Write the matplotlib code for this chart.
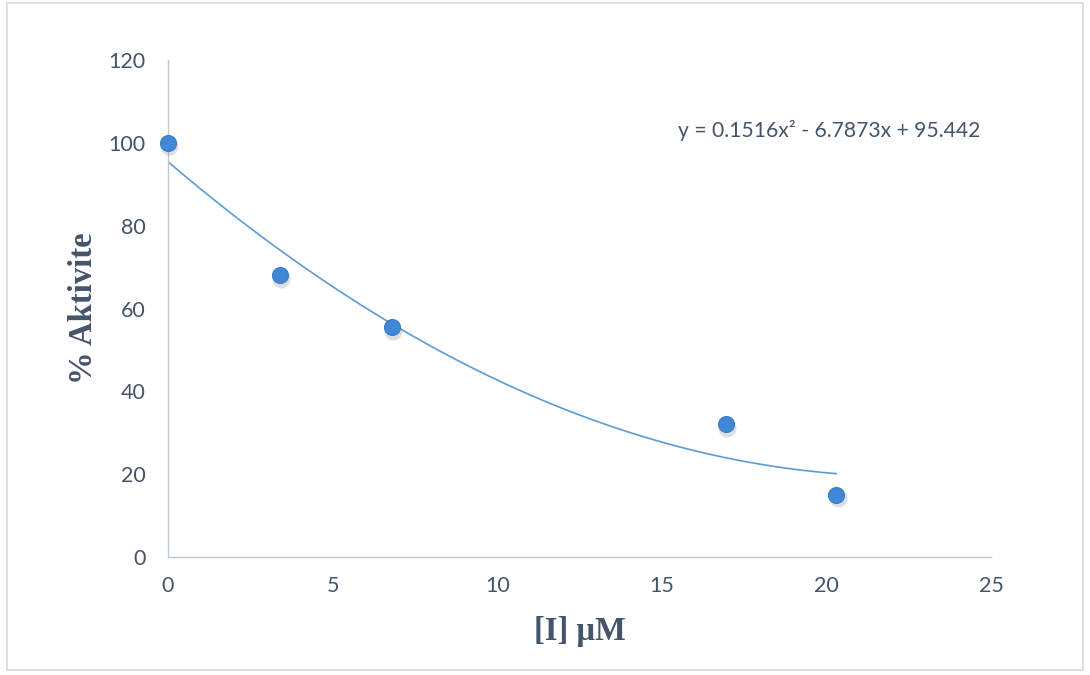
import numpy as np
import matplotlib
matplotlib.use("Agg")
import matplotlib.pyplot as plt
from matplotlib.patches import Rectangle
from matplotlib import transforms

# veriler
konsantrasyon = [0.0, 3.4, 6.8, 16.95, 20.3]
aktivite = [100.0, 68.0, 55.5, 32.0, 15.0]
trend_katsayi = [0.1516, -6.7873, 95.442]  # ax^2 + bx + c
x_ticks = [0, 5, 10, 15, 20, 25]
y_ticks = [0, 20, 40, 60, 80, 100, 120]

text_col = "#44546A"
axis_col = "#BCC8D8"
mark_col = "#3F88D5"
line_col = "#5B9BD5"

fig = plt.figure(figsize=(10.9, 6.75), dpi=100)
ax = fig.add_axes([0.1541, 0.1748, 0.7551, 0.7363])

# dış çerçeve
fig.patches.append(Rectangle((0.006, 0.008), 0.988, 0.987, transform=fig.transFigure,
                             fill=False, edgecolor="#D9D9D9", linewidth=1.2))

# trend çizgisi
xs = np.linspace(min(konsantrasyon), max(konsantrasyon), 200)
ax.plot(xs, np.polyval(trend_katsayi, xs), color=line_col, linewidth=1.2, zorder=2)

# gölge + noktalar
shadow = transforms.offset_copy(ax.transData, fig=fig, x=1.0, y=-2.5, units="points")
ax.plot(konsantrasyon, aktivite, "o", color="#8C97A6", alpha=0.3, markersize=13,
        markeredgewidth=0, transform=shadow, zorder=3, clip_on=False)
ax.plot(konsantrasyon, aktivite, "o", color=mark_col, markersize=11.5,
        markeredgecolor="#3A7CC4", markeredgewidth=0.8, zorder=4, clip_on=False)

ax.text(0.9866, 0.859, "y = 0.1516x\u00b2 - 6.7873x + 95.442",
        transform=ax.transAxes, ha="right", va="center", fontsize=15.2,
        color=text_col, family="Lato")

ax.set_xlim(0, 25)
ax.set_ylim(0, 120)
ax.set_xticks(x_ticks)
ax.set_yticks(y_ticks)
ax.tick_params(length=0, labelsize=15.5, labelcolor=text_col)
ax.tick_params(axis="y", pad=16)
ax.tick_params(axis="x", pad=14)
for lbl in ax.get_xticklabels() + ax.get_yticklabels():
    lbl.set_family("Lato")

for side in ("top", "right"):
    ax.spines[side].set_visible(False)
for side in ("left", "bottom"):
    ax.spines[side].set_color(axis_col)
    ax.spines[side].set_linewidth(1.0)

ax.set_xlabel("[I] \u00b5M", fontsize=23.5, fontweight="bold", family="Liberation Serif",
              color=text_col, labelpad=14)
ax.set_ylabel("% Aktivite", fontsize=23.5, fontweight="bold", family="Liberation Serif",
              color=text_col, labelpad=7)

fig.savefig("out.png", dpi=100)
